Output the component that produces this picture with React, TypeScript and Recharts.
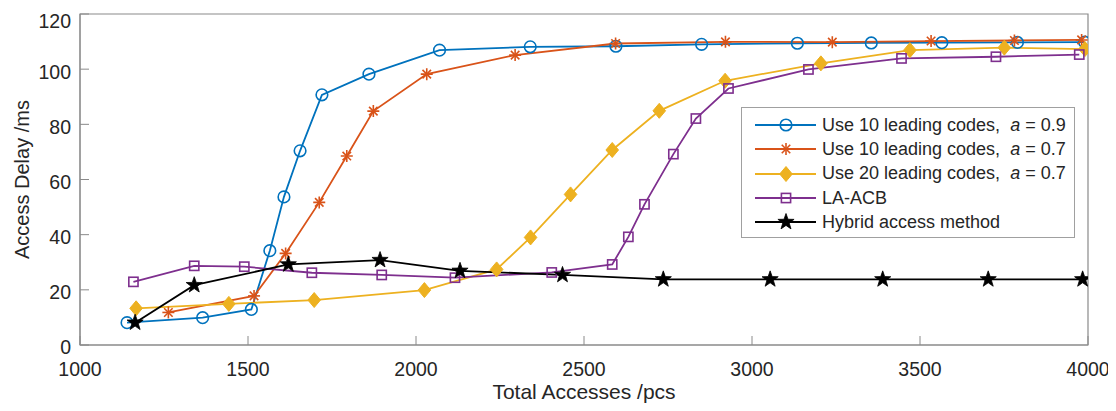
import { LineChart, Line, XAxis, YAxis, Legend, ReferenceArea } from "recharts";

const FONT = '"Liberation Sans", Arial, sans-serif';
const TEXT = "#262626";
const AXIS = "#8a8a8a";

const xTicks = [1000, 1500, 2000, 2500, 3000, 3500, 4000];
const yTicks = [0, 20, 40, 60, 80, 100, 120];

// Use 10 leading codes, a = 0.9
const lead10a09X = [1140, 1365, 1510, 1565, 1607, 1655, 1720, 1860, 2070, 2340, 2595, 2850, 3135, 3355, 3565, 3790, 3990];
const lead10a09Y = [8.1, 9.9, 12.9, 34.2, 53.7, 70.4, 90.7, 98.2, 106.9, 108.1, 108.3, 109.0, 109.4, 109.5, 109.6, 109.7, 109.8];

// Use 10 leading codes, a = 0.7
const lead10a07X = [1263, 1518, 1612, 1712, 1794, 1873, 2032, 2295, 2594, 2921, 3239, 3533, 3781, 3981];
const lead10a07Y = [11.8, 17.8, 33.2, 51.7, 68.5, 84.8, 98.2, 105.1, 109.3, 109.9, 109.8, 110.2, 110.4, 110.6];

// Use 20 leading codes, a = 0.7
const lead20a07X = [1167, 1443, 1697, 2025, 2240, 2341, 2460, 2584, 2724, 2920, 3205, 3470, 3751, 3991];
const lead20a07Y = [13.3, 14.9, 16.3, 19.9, 27.4, 39.0, 54.6, 70.7, 84.9, 95.8, 102.1, 106.9, 107.8, 107.3];

// LA-ACB
const laAcbX = [1159, 1340, 1489, 1690, 1898, 2116, 2404, 2584, 2632, 2680, 2766, 2833, 2930, 3168, 3445, 3726, 3974];
const laAcbY = [22.9, 28.7, 28.4, 26.2, 25.4, 24.4, 26.3, 29.2, 39.2, 51.0, 69.2, 82.1, 93.0, 99.9, 103.9, 104.5, 105.3];

// Hybrid access method
const hybridX = [1164, 1340, 1620, 1893, 2131, 2436, 2736, 3054, 3389, 3703, 3984];
const hybridY = [8.1, 21.7, 29.2, 30.8, 26.9, 25.4, 23.8, 23.8, 23.8, 23.8, 23.8];

const zip = (xs: number[], ys: number[]) => xs.map((x, i) => ({ x, y: ys[i] }));

type MarkerKind = "circle" | "asterisk" | "diamond" | "square" | "star";

const Marker = ({ kind, cx, cy, color }: { kind: MarkerKind; cx: number; cy: number; color: string }) => {
	if (kind === "circle") {
		return <circle cx={cx} cy={cy} r={5.8} fill="none" stroke={color} strokeWidth={1.6} />;
	}
	if (kind === "square") {
		return <rect x={cx - 4.6} y={cy - 4.6} width={9.2} height={9.2} fill="none" stroke={color} strokeWidth={1.6} />;
	}
	if (kind === "diamond") {
		const pts = `${cx},${cy - 7.5} ${cx + 6.3},${cy} ${cx},${cy + 7.5} ${cx - 6.3},${cy}`;
		return <polygon points={pts} fill={color} stroke={color} strokeWidth={1} />;
	}
	if (kind === "asterisk") {
		const r = 6;
		const d = r * 0.7071;
		return (
			<g stroke={color} strokeWidth={1.6}>
				<line x1={cx - r} y1={cy} x2={cx + r} y2={cy} />
				<line x1={cx} y1={cy - r} x2={cx} y2={cy + r} />
				<line x1={cx - d} y1={cy - d} x2={cx + d} y2={cy + d} />
				<line x1={cx - d} y1={cy + d} x2={cx + d} y2={cy - d} />
			</g>
		);
	}
	const pts: string[] = [];
	for (let i = 0; i < 10; i++) {
		const rad = i % 2 === 0 ? 8.5 : 3.4;
		const ang = -Math.PI / 2 + (i * Math.PI) / 5;
		pts.push(`${cx + rad * Math.cos(ang)},${cy + rad * Math.sin(ang)}`);
	}
	return <polygon points={pts.join(" ")} fill={color} stroke={color} strokeWidth={0.8} />;
};

const series = [
	{ key: "l10a09", prefix: "Use 10 leading codes,  ", value: "0.9", color: "#0072BD", marker: "circle" as MarkerKind, data: zip(lead10a09X, lead10a09Y) },
	{ key: "l10a07", prefix: "Use 10 leading codes,  ", value: "0.7", color: "#D95319", marker: "asterisk" as MarkerKind, data: zip(lead10a07X, lead10a07Y) },
	{ key: "l20a07", prefix: "Use 20 leading codes,  ", value: "0.7", color: "#EDB120", marker: "diamond" as MarkerKind, data: zip(lead20a07X, lead20a07Y) },
	{ key: "laacb", prefix: "LA-ACB", value: null, color: "#7E2F8E", marker: "square" as MarkerKind, data: zip(laAcbX, laAcbY) },
	{ key: "hybrid", prefix: "Hybrid access method", value: null, color: "#000000", marker: "star" as MarkerKind, data: zip(hybridX, hybridY) },
];

const LegendBox = () => (
	<div
		style={{
			width: 334,
			height: 131,
			boxSizing: "border-box",
			border: "1px solid #a0a0a0",
			background: "#fff",
			paddingTop: 5,
			fontFamily: FONT,
			fontSize: 18,
			color: TEXT,
		}}
	>
		{series.map((s) => (
			<div key={s.key} style={{ display: "flex", alignItems: "center", height: 24.3 }}>
				<svg width={80} height={20} style={{ flex: "none" }}>
					<line x1={13} y1={10} x2={74} y2={10} stroke={s.color} strokeWidth={1.8} />
					<Marker kind={s.marker} cx={44} cy={10} color={s.color} />
				</svg>
				<span style={{ whiteSpace: "pre" }}>
					{s.prefix}
					{s.value && (
						<>
							<i>a</i> = {s.value}
						</>
					)}
				</span>
			</div>
		))}
	</div>
);

const App = () => {
	return (
		<div style={{ height: 403, marginBottom: -8 }}>
			<LineChart width={1108} height={403} margin={{ top: 6, right: 28, bottom: 0, left: 0 }}>
				<XAxis
					dataKey="x"
					type="number"
					domain={[1000, 4000]}
					ticks={xTicks}
					allowDataOverflow
					height={66}
					stroke={AXIS}
					tickSize={-9}
					tickMargin={26}
					tick={{ fill: TEXT, fontSize: 19.5, fontFamily: FONT }}
					label={{ value: "Total Accesses /pcs", position: "center", dy: 14, fill: TEXT, fontSize: 21, fontFamily: FONT }}
				/>
				<XAxis xAxisId="top" orientation="top" dataKey="x" type="number" domain={[1000, 4000]} ticks={xTicks} height={0} stroke={AXIS} tickSize={-9} tick={false} />
				<YAxis
					type="number"
					domain={[0, 120]}
					ticks={yTicks}
					width={72}
					stroke={AXIS}
					tickSize={-9}
					tickMargin={18}
					tick={{ fill: TEXT, fontSize: 19.5, fontFamily: FONT, dy: 2.5 }}
					label={{ value: "Access Delay /ms", angle: -90, position: "center", dx: -22, fill: TEXT, fontSize: 20, fontFamily: FONT }}
				/>
				<YAxis yAxisId="right" orientation="right" type="number" domain={[0, 120]} ticks={yTicks} width={0} stroke={AXIS} tickSize={-9} tick={false} />
				<ReferenceArea x1={1000} x2={4000} y1={0} y2={120} fill="none" stroke={AXIS} strokeWidth={1.2} ifOverflow="visible" />
				{series.map((s) => (
					<Line
						key={s.key}
						data={s.data}
						dataKey="y"
						type="linear"
						stroke={s.color}
						strokeWidth={1.8}
						isAnimationActive={false}
						dot={(p: any) => <Marker key={`${s.key}-${p.index}`} kind={s.marker} cx={p.cx} cy={p.cy} color={s.color} />}
						activeDot={false}
					/>
				))}
				<Legend
					layout="vertical"
					align="center"
					verticalAlign="middle"
					content={() => <LegendBox />}
					wrapperStyle={{ position: "absolute", left: 733, top: 99, width: 334, height: 131 }}
				/>
			</LineChart>
		</div>
	);
};

export default App;
